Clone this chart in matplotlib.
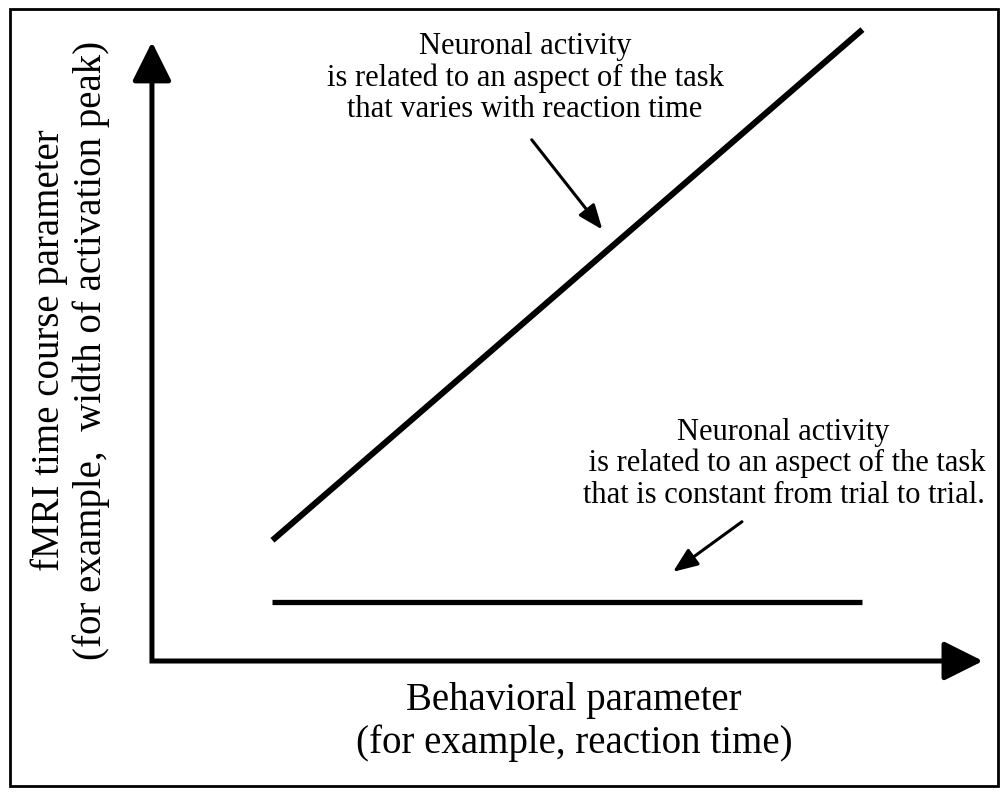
import matplotlib.pyplot as plt
from matplotlib.patches import Rectangle

plt.rcParams['font.family'] = ['Liberation Serif', 'DejaVu Serif']

# schematic data (arbitrary units)
behavioral = [1.45, 8.55]          # behavioral parameter, e.g. reaction time
varies_with_rt = [1.95, 10.2]      # fMRI parameter for activity that varies with RT
constant = [0.95, 0.95]            # fMRI parameter for activity constant across trials

note_varies = ("Neuronal activity\nis related to an aspect of the task\n"
               "that varies with reaction time")
note_constant = ("Neuronal activity\n is related to an aspect of the task\n"
                 "that is constant from trial to trial.")
xlabel = "Behavioral parameter\n(for example, reaction time)"
ylabel = "fMRI time course parameter\n(for example,  width of activation peak)"

fig = plt.figure(figsize=(10.03, 7.92), dpi=100)
ax = fig.add_axes([0.1515, 0.1654, 0.8285, 0.7816])
ax.set_xlim(0, 10)
ax.set_ylim(0, 10)
ax.axis('off')

# axes: one L-shaped line plus two arrow heads
ax.plot([0, 0, 9.75], [9.65, 0, 0], color='black', lw=3.6, solid_joinstyle='miter',
        solid_capstyle='butt', clip_on=False, snap=False)
axis_arrow = dict(arrowstyle='-|>,head_length=24,head_width=12', mutation_scale=1,
                  lw=3.6, color='black', shrinkA=0, shrinkB=0)
ax.annotate('', xy=(10, 0), xytext=(9.58, 0), arrowprops=axis_arrow, annotation_clip=False)
ax.annotate('', xy=(0, 10), xytext=(0, 9.44), arrowprops=axis_arrow, annotation_clip=False)

# the two relations
ax.plot(behavioral, varies_with_rt, color='black', lw=4.4, solid_capstyle='butt', clip_on=False)
ax.plot(behavioral, constant, color='black', lw=3.8, solid_capstyle='butt', clip_on=False)

# notes with pointer arrows
pointer = dict(arrowstyle='-|>,head_length=0.75,head_width=0.3', mutation_scale=20,
               lw=2.2, color='black', shrinkA=0, shrinkB=0)
ax.text(4.49, 9.42, note_varies, ha='center', va='center', fontsize=22, linespacing=1.1)
ax.annotate('', xy=(5.42, 6.97), xytext=(4.57, 8.42), arrowprops=pointer)

ax.text(7.6, 3.19, note_constant, ha='center', va='center', fontsize=22, linespacing=1.1)
ax.annotate('', xy=(6.27, 1.44), xytext=(7.10, 2.25), arrowprops=pointer)

# axis titles
fig.text(574 / 1003, 1 - 722 / 792, xlabel, ha='center', va='center', fontsize=28,
         linespacing=1.18)
fig.text(70 / 1003, 1 - 350 / 792, ylabel, ha='center', va='center', fontsize=28,
         rotation=90, linespacing=1.15)

# frame around the whole figure
fig.add_artist(Rectangle((10 / 1003, 1 - 786 / 792), 988 / 1003, 777 / 792,
                         transform=fig.transFigure, fill=False, lw=2, color='black'))

fig.savefig('out.png', dpi=100, facecolor='white')
